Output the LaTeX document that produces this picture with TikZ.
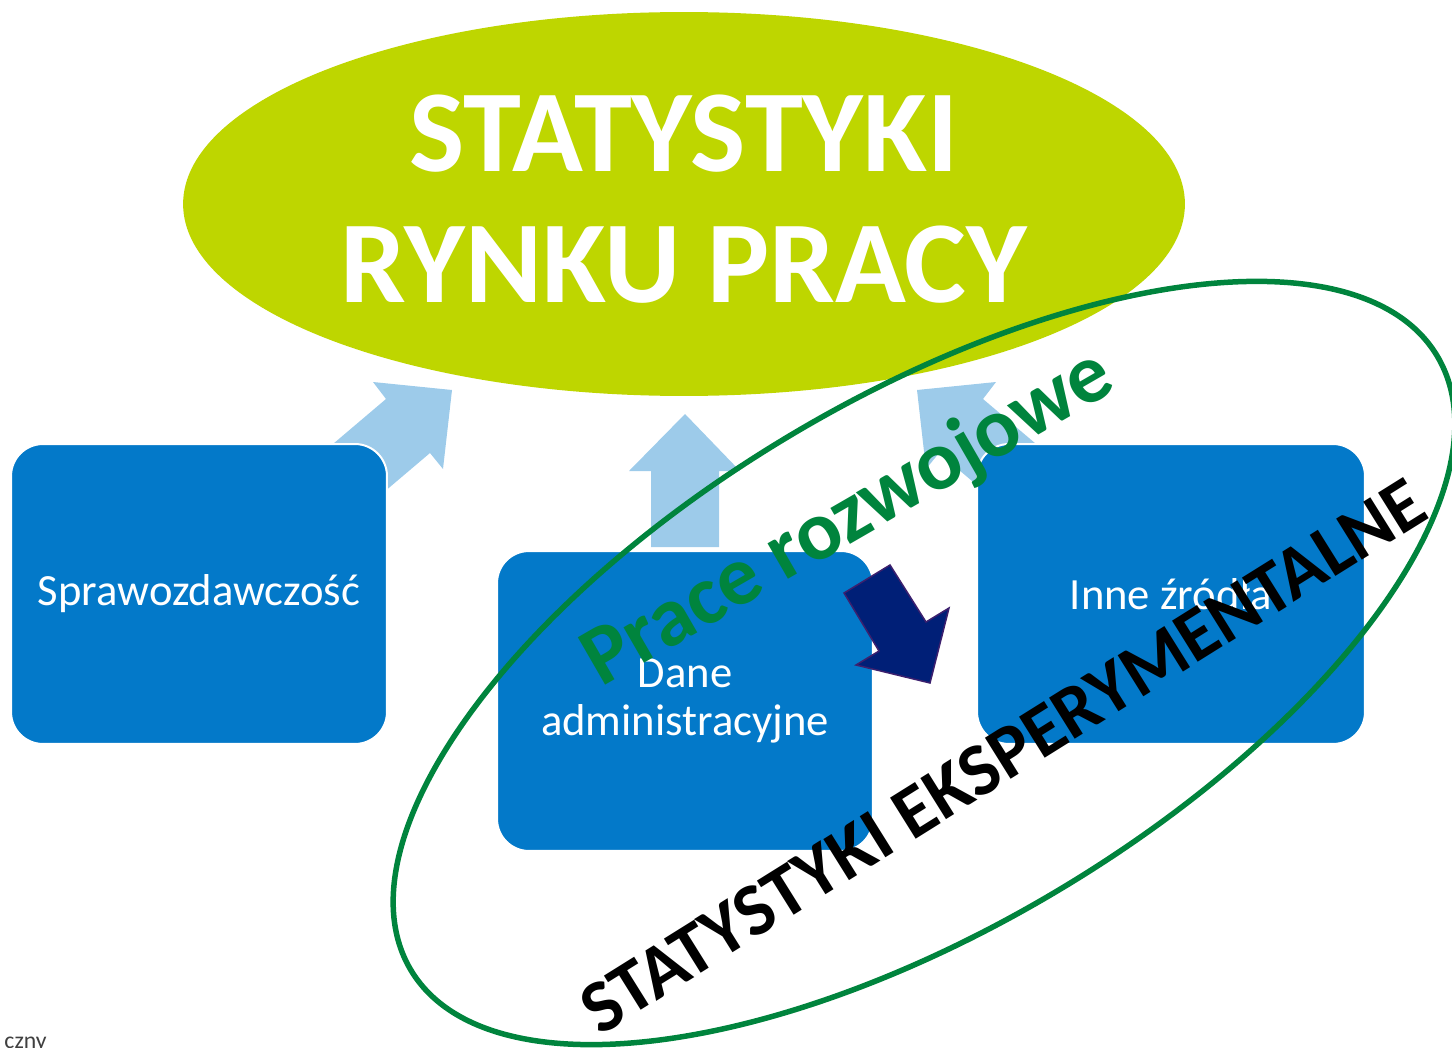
\documentclass[tikz,border=0pt]{standalone}
\usepackage{fontspec}
\setmainfont{Carlito}
\usetikzlibrary{shapes.geometric}

\definecolor{limefill}{RGB}{190,214,0}
\definecolor{boxblue}{RGB}{3,121,201}
\definecolor{paleblue}{RGB}{157,203,234}
\definecolor{ringgreen}{RGB}{0,132,61}
\definecolor{navyfill}{RGB}{0,31,119}
\definecolor{navyline}{RGB}{60,32,110}

\begin{document}
\begin{tikzpicture}[x=0.02cm,y=-0.02cm,
    box/.style={draw=white, line width=0.04cm, fill=boxblue, rounded corners=0.64cm,
                minimum height=6cm, inner sep=0pt, text=white, align=center,
                font=\fontsize{25.4}{27.3}\selectfont},
    title/.style={text=white, inner sep=0pt, anchor=base,
                  font=\bfseries\fontsize{66.5}{74}\selectfont},
    uparrow/.style={fill=paleblue},
    ring/.style={draw=ringgreen, line width=0.11cm}]
    \useasboundingbox (0,0) rectangle (1452,1047);

    \node[ellipse, fill=limefill, minimum width=20.04cm, minimum height=7.68cm] (glowna) at (684,204) {};
    \node[title] (stat)  at (684,172) {STATYSTYKI};
    \node[title] (rynek) at (684,302) {RYNKU PRACY};

    % strzalki do gory
    \fill[uparrow] (452,390) -- (443,469) -- (430,453) -- (364,509) -- (320,455) -- (386,399) -- (373,382) -- cycle;
    \fill[uparrow] (685,414) -- (740,471) -- (719,471) -- (719,547) -- (651,547) -- (651,471) -- (629,471) -- cycle;
    \fill[uparrow] (917,390) -- (926,469) -- (939,453) -- (1005,509) -- (1049,455) -- (983,399) -- (996,382) -- cycle;

    \node[box, minimum width=7.52cm] (spraw) at (199,594) {Sprawozdawczość};
    \node[box, minimum width=7.52cm] (dane)  at (685,701) {Dane\\administracyjne};
    \node[box, minimum width=7.76cm] (inne)  at (1171,594) {Inne źródła};

    \draw[fill=navyfill, draw=navyline, line width=0.03cm]
        (890,565) -- (844,593) -- (879,651) -- (856,665) -- (930,683) -- (949,608) -- (926,622) -- cycle;

    \node[rotate=30, text=ringgreen, inner sep=0pt, font=\bfseries\fontsize{48}{50}\selectfont]
        (prace) at (849,519) {Prace rozwojowe};

    \draw[ring, rotate around={30.9:(924,663)}] (924,663) ellipse [x radius=598, y radius=264];

    \node[rotate=32, inner sep=0pt, font=\bfseries\fontsize{42.5}{44}\selectfont]
        (eksp) at (1003,756) {STATYSTYKI EKSPERYMENTALNE};

    \node[anchor=base east, inner sep=0pt, text=black!75, font=\fontsize{13.5}{15}\selectfont]
        (stopka) at (47,1048) {czny};
\end{tikzpicture}
\end{document}
